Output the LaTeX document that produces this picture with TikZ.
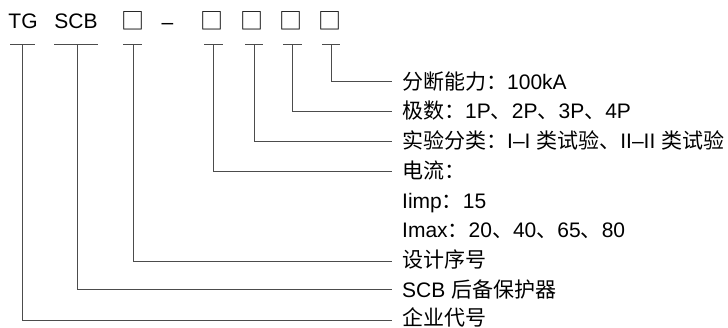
\documentclass[tikz,border=0pt]{standalone}
\usepackage{fontspec}
\setmainfont{Liberation Sans}
\newfontfamily\cjk{Noto Sans CJK SC}
\begin{document}
\begin{tikzpicture}[x=1pt,y=-1pt,
  lbl/.style={inner sep=0pt,font=\fontsize{21}{24}\selectfont},
  conn/.style={draw=black!70,line width=0.8pt},
  box/.style={inner sep=0pt,font=\fontsize{23}{24}\cjk}]
\useasboundingbox (0,0) rectangle (728,327);
% top code
\node[lbl,anchor=base] (tg) at (23,28.5) {TG};
\node[lbl,anchor=base] (scb) at (76,28.5) {SCB};
\node[box,anchor=base] (b1) at (132.5,29.5) {□};
\node[lbl,anchor=base] (dash) at (167.5,29) {–};
\node[box,anchor=base] (b2) at (212,29.5) {□};
\node[box,anchor=base] (b3) at (252,29.5) {□};
\node[box,anchor=base] (b4) at (291,29.5) {□};
\node[box,anchor=base] (b5) at (330,29.5) {□};
% T bar coordinates
\coordinate (tTG) at (22,44);
\coordinate (tSCB) at (77,44);
\coordinate (t1) at (133,44);
\coordinate (t2) at (213,44);
\coordinate (t3) at (254,44);
\coordinate (t4) at (292,44);
\coordinate (t5) at (331,44);
\draw[conn] (10,44) -- (35,44);
\draw[conn] (54,44) -- (98,44);
\draw[conn] (123,44) -- (142,44);
\draw[conn] (204,44) -- (223,44);
\draw[conn] (245,44) -- (263,44);
\draw[conn] (283,44) -- (302,44);
\draw[conn] (322,44) -- (340,44);
% labels
\def\tx{402}
\node[lbl,anchor=base west] (r1) at (\tx,89) {{\cjk 分断能力：}100kA};
\node[lbl,anchor=base west] (r2) at (\tx,118.5) {{\cjk 极数：}1P{\cjk 、}2P{\cjk 、}3P{\cjk 、}4P};
\node[lbl,anchor=base west] (r3) at (\tx,148.5) {{\cjk 实验分类：}I–I {\cjk 类试验、}II–II {\cjk 类试验}};
\node[lbl,anchor=base west] (r4) at (\tx,178) {{\cjk 电流：}};
\node[lbl,anchor=base west] (r5) at (\tx,208) {Iimp{\cjk ：}15};
\node[lbl,anchor=base west] (r6) at (\tx,237.5) {Imax{\cjk ：}20{\cjk 、}40{\cjk 、}65{\cjk 、}80};
\node[lbl,anchor=base west] (r7) at (\tx,267.5) {{\cjk 设计序号}};
\node[lbl,anchor=base west] (r8) at (\tx,297) {SCB {\cjk 后备保护器}};
\node[lbl,anchor=base west] (r9) at (\tx,325) {{\cjk 企业代号}};
% connectors
\coordinate (e1) at (392,81);
\coordinate (e2) at (392,111);
\coordinate (e3) at (392,141);
\coordinate (e4) at (392,171.5);
\coordinate (e7) at (392,261);
\coordinate (e8) at (392,289.5);
\coordinate (e9) at (392,320.5);
\draw[conn] (t5) |- (e1);
\draw[conn] (t4) |- (e2);
\draw[conn] (t3) |- (e3);
\draw[conn] (t2) |- (e4);
\draw[conn] (t1) |- (e7);
\draw[conn] (tSCB) |- (e8);
\draw[conn] (tTG) |- (e9);
\end{tikzpicture}
\end{document}
